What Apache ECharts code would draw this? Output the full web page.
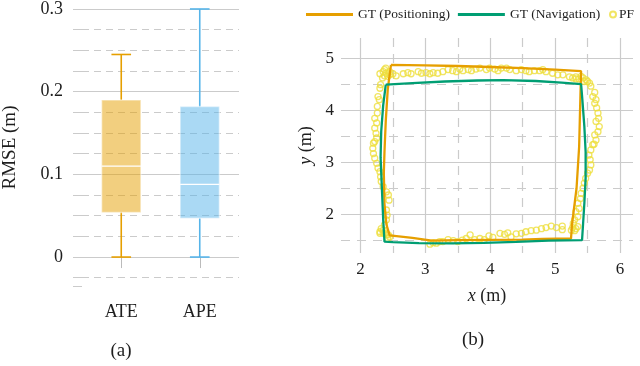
<!DOCTYPE html>
<html>
<head>
<meta charset="utf-8">
<script src="https://cdn.jsdelivr.net/npm/echarts@6.0.0/dist/echarts.min.js"></script>
<style>
  html, body { margin: 0; padding: 0; background: #fff; }
  #chart { width: 640px; height: 366px; }
</style>
</head>
<body>
<div id="chart"></div>
<script>
// (a) RMSE box statistics: [min, q1, median, q3, max]
const errorNames = ['ATE', 'APE'];
const ateBox = [0, 0.054, 0.110, 0.190, 0.245];
const apeBox = [0, 0.047, 0.088, 0.182, 0.300];

// (b) trajectories, [x, y] in m
const gtPositioning = [
  [2.47, 4.88], [3.0, 4.87], [3.5, 4.86], [4.0, 4.84], [4.5, 4.82], [5.0, 4.79], [5.40, 4.76],
  [5.39, 4.30], [5.38, 3.80], [5.37, 3.30], [5.35, 2.90], [5.33, 2.50], [5.29, 2.10], [5.26, 1.80], [5.245, 1.53],
  [4.8, 1.52], [4.5, 1.51], [4.0, 1.505], [3.5, 1.50], [3.1, 1.49], [2.8, 1.54], [2.45, 1.59],
  [2.40, 1.80], [2.37, 2.20], [2.36, 2.80], [2.37, 3.20], [2.39, 3.80], [2.42, 4.40], [2.44, 4.60], [2.47, 4.88]
];
const gtNavigation = [
  [2.39, 4.50], [2.8, 4.53], [3.3, 4.56], [3.8, 4.58], [4.2, 4.585], [4.7, 4.57], [5.1, 4.54], [5.40, 4.51],
  [5.42, 4.20], [5.45, 3.70], [5.47, 3.20], [5.47, 2.70], [5.45, 2.20], [5.43, 1.80], [5.415, 1.50],
  [4.9, 1.49], [4.4, 1.465], [3.9, 1.445], [3.4, 1.435], [2.9, 1.44], [2.5, 1.46], [2.37, 1.47],
  [2.35, 1.90], [2.33, 2.50], [2.31, 3.10], [2.32, 3.60], [2.35, 4.10], [2.39, 4.50]
];
const pfPoints = [
  [2.30, 4.71], [2.35, 4.75], [2.37, 4.79], [2.40, 4.72], [2.42, 4.66], [2.37, 4.67], [2.34, 4.63], [2.45, 4.75], [2.50, 4.71], [2.39, 4.82],
  [2.45, 4.69], [2.55, 4.67], [2.66, 4.71], [2.73, 4.73], [2.78, 4.71], [2.89, 4.75], [2.94, 4.72], [3.01, 4.73], [3.07, 4.71], [3.12, 4.73],
  [3.19, 4.72], [3.27, 4.75], [3.35, 4.79], [3.42, 4.77], [3.48, 4.75], [3.53, 4.80], [3.58, 4.77], [3.66, 4.79], [3.71, 4.77], [3.78, 4.80],
  [3.84, 4.82], [3.94, 4.79], [3.99, 4.82], [4.07, 4.80], [4.12, 4.77], [4.17, 4.82], [4.25, 4.82], [4.30, 4.79], [4.40, 4.77], [4.48, 4.79],
  [4.55, 4.77], [4.60, 4.75], [4.68, 4.77], [4.76, 4.77], [4.81, 4.79], [4.86, 4.75], [4.96, 4.72], [5.04, 4.69], [5.12, 4.69], [5.22, 4.65],
  [5.27, 4.63], [5.32, 4.61], [5.32, 4.65], [5.37, 4.61], [5.40, 4.66], [5.45, 4.56],
  [5.43, 4.63], [5.48, 4.59], [5.50, 4.56], [5.53, 4.53], [5.55, 4.47], [5.61, 4.35], [5.58, 4.27], [5.63, 4.21], [5.61, 4.14], [5.64, 4.05],
  [5.66, 3.95], [5.67, 3.85], [5.63, 3.79], [5.68, 3.69], [5.66, 3.59], [5.61, 3.53], [5.63, 3.43], [5.58, 3.34], [5.60, 3.35], [5.55, 3.24],
  [5.52, 3.14], [5.54, 3.05], [5.55, 2.95], [5.53, 2.85], [5.50, 2.79], [5.47, 2.69], [5.45, 2.60], [5.43, 2.50], [5.40, 2.40], [5.39, 2.30],
  [5.35, 2.21], [5.37, 2.11], [5.32, 2.05], [5.35, 1.95], [5.30, 1.89], [5.28, 1.82], [5.27, 1.74], [5.32, 1.72], [5.35, 1.76], [5.30, 1.68],
  [5.25, 1.69], [5.11, 1.77], [5.11, 1.70], [5.02, 1.74], [4.94, 1.77], [4.86, 1.74], [4.79, 1.72], [4.71, 1.69], [4.63, 1.68], [4.55, 1.66],
  [4.48, 1.63], [4.40, 1.62], [4.32, 1.56], [4.27, 1.64], [4.22, 1.61], [4.15, 1.63], [4.04, 1.55], [3.98, 1.58], [3.91, 1.51], [3.84, 1.53],
  [3.76, 1.51], [3.69, 1.60], [3.63, 1.53], [3.57, 1.50], [3.50, 1.47], [3.43, 1.49], [3.35, 1.51], [3.27, 1.47], [3.22, 1.47], [3.17, 1.44],
  [3.12, 1.45], [3.07, 1.42],
  [2.45, 1.56], [2.42, 1.53], [2.40, 1.60], [2.37, 1.63], [2.35, 1.69], [2.32, 1.72], [2.30, 1.66], [2.30, 1.63], [2.35, 1.63], [2.43, 1.60],
  [2.37, 1.79], [2.40, 1.89], [2.41, 1.98], [2.40, 2.08], [2.44, 2.27], [2.43, 2.37], [2.40, 2.43], [2.35, 2.53], [2.32, 2.63], [2.31, 2.72],
  [2.30, 2.82], [2.27, 2.89], [2.25, 2.98], [2.22, 3.08], [2.20, 3.17], [2.19, 3.27], [2.20, 3.37], [2.22, 3.40], [2.25, 3.47], [2.24, 3.56],
  [2.22, 3.66], [2.25, 3.76], [2.22, 3.85], [2.26, 3.95], [2.26, 4.08], [2.29, 4.21], [2.27, 4.27], [2.30, 4.43], [2.31, 4.50]
];

const serif = "'Liberation Serif', 'DejaVu Serif', serif";
const ink = '#1e1e1e';
const gridGray = '#cbcbcb';
const boxStroke = ['#e69f00', '#56b4e9'];
const boxFill = ['rgba(230,159,0,0.5)', 'rgba(86,180,233,0.5)'];

const chart = echarts.init(document.getElementById('chart'));

// whiskers, caps, box and white median line for each category
function renderBox(params, api) {
  const i = api.value(0);
  const lo = api.coord([i, api.value(1)]);
  const q1 = api.coord([i, api.value(2)]);
  const md = api.coord([i, api.value(3)]);
  const q3 = api.coord([i, api.value(4)]);
  const hi = api.coord([i, api.value(5)]);
  const band = api.size([1, 0])[0];
  const bw = band * 0.5;
  const cw = band * 0.25;
  const cx = lo[0];
  const ls = { stroke: boxStroke[i], lineWidth: 1.6 };
  return {
    type: 'group',
    children: [
      { type: 'line', shape: { x1: cx, y1: lo[1], x2: cx, y2: q1[1] }, style: ls },
      { type: 'line', shape: { x1: cx, y1: q3[1], x2: cx, y2: hi[1] }, style: ls },
      { type: 'line', shape: { x1: cx - cw / 2, y1: lo[1], x2: cx + cw / 2, y2: lo[1] }, style: ls },
      { type: 'line', shape: { x1: cx - cw / 2, y1: hi[1], x2: cx + cw / 2, y2: hi[1] }, style: ls },
      { type: 'rect', shape: { x: cx - bw / 2, y: q3[1], width: bw, height: q1[1] - q3[1] },
        style: { fill: boxFill[i], stroke: 'rgba(255,255,255,0.45)', lineWidth: 1.5 } },
      { type: 'line', shape: { x1: cx - bw / 2, y1: md[1], x2: cx + bw / 2, y2: md[1] },
        style: { stroke: '#fff', lineWidth: 1.3 } }
    ]
  };
}

const dashed = { color: gridGray, type: [7, 5], width: 1.2 };
const solid = { color: gridGray, width: 1.2 };

const option = {
  animation: false,
  backgroundColor: '#fff',
  textStyle: { fontFamily: serif },
  grid: [
    { left: 79, right: 401, top: 7, bottom: 80 },
    { left: 341, right: 7, top: 38, bottom: 113 }
  ],
  legend: [
    {
      data: [
        { name: 'GT (Positioning)', icon: 'rect' },
        { name: 'GT (Navigation)', icon: 'rect' }
      ],
      left: 306, top: 7.5, padding: 0, orient: 'horizontal',
      itemWidth: 47, itemHeight: 3, itemGap: 8,
      textStyle: { fontFamily: serif, fontSize: 13.5, color: ink }
    },
    {
      data: ['PF'],
      left: 609, top: 7.5, padding: 0,
      itemWidth: 6, itemHeight: 6, itemGap: 0,
      textStyle: { fontFamily: serif, fontSize: 13.5, color: ink, padding: [0, 0, 0, -2] }
    }
  ],
  xAxis: [
    {
      gridIndex: 0, type: 'category', data: errorNames,
      axisLine: { show: false },
      axisTick: { show: true, alignWithLabel: true, length: 11, lineStyle: { color: '#bbb' } },
      axisLabel: { margin: 17, fontSize: 18, color: ink, fontFamily: serif },
      splitLine: { show: false }
    },
    {
      gridIndex: 1, type: 'value', min: 1.7, max: 6.2, splitNumber: 4,
      name: '{i|x} (m)', nameLocation: 'middle', nameGap: 34,
      nameTextStyle: { fontFamily: serif, fontSize: 18, color: ink,
        rich: { i: { fontStyle: 'italic', fontFamily: serif, fontSize: 18, color: ink } } },
      axisLine: { show: false },
      axisTick: { show: false },
      axisLabel: { margin: 8, fontSize: 17, color: ink, fontFamily: serif, showMinLabel: false, showMaxLabel: false },
      splitLine: { show: true, showMinLine: false, showMaxLine: false, lineStyle: solid },
      minorTick: { show: false, splitNumber: 2 },
      minorSplitLine: { show: true, lineStyle: { color: gridGray, type: [9, 7], width: 1.2 } }
    }
  ],
  yAxis: [
    {
      gridIndex: 0, type: 'value', min: -0.035, max: 0.3, splitNumber: 4,
      name: 'RMSE (m)', nameLocation: 'middle', nameGap: 62,
      nameTextStyle: { fontFamily: serif, fontSize: 19, color: ink },
      axisLine: { show: false },
      axisTick: { show: true, length: 9, lineStyle: { color: gridGray } },
      minorTick: { show: true, splitNumber: 4, length: 9, lineStyle: { color: gridGray } },
      axisLabel: { margin: 19, fontSize: 18, color: ink, fontFamily: serif, showMinLabel: false },
      splitLine: { show: true, showMinLine: false, lineStyle: solid },
      minorSplitLine: { show: true, lineStyle: dashed }
    },
    {
      gridIndex: 1, type: 'value', min: 1.25, max: 5.4, splitNumber: 4,
      name: '{i|y} (m)', nameLocation: 'middle', nameGap: 26,
      nameTextStyle: { fontFamily: serif, fontSize: 18, color: ink,
        rich: { i: { fontStyle: 'italic', fontFamily: serif, fontSize: 18, color: ink } } },
      axisLine: { show: false },
      axisTick: { show: false },
      axisLabel: { margin: 7, fontSize: 17, color: ink, fontFamily: serif, showMinLabel: false, showMaxLabel: false },
      splitLine: { show: true, showMinLine: false, showMaxLine: false, lineStyle: solid },
      minorTick: { show: false, splitNumber: 2 },
      minorSplitLine: { show: true, lineStyle: { color: gridGray, type: [9, 7], width: 1.2 } }
    }
  ],
  series: [
    {
      type: 'custom', name: 'RMSE',
      xAxisIndex: 0, yAxisIndex: 0,
      renderItem: renderBox,
      encode: { x: 0, y: [1, 2, 3, 4, 5] },
      data: [[0].concat(ateBox), [1].concat(apeBox)]
    },
    {
      type: 'line', name: 'GT (Positioning)',
      xAxisIndex: 1, yAxisIndex: 1,
      data: gtPositioning, symbol: 'none', showSymbol: false,
      lineStyle: { color: '#e69f00', width: 2.3 }, itemStyle: { color: '#e69f00' }
    },
    {
      type: 'line', name: 'GT (Navigation)',
      xAxisIndex: 1, yAxisIndex: 1,
      data: gtNavigation, symbol: 'none', showSymbol: false,
      lineStyle: { color: '#009e73', width: 2.3 }, itemStyle: { color: '#009e73' }
    },
    {
      type: 'scatter', name: 'PF',
      xAxisIndex: 1, yAxisIndex: 1,
      data: pfPoints, symbol: 'circle', symbolSize: 6,
      itemStyle: { color: 'rgba(255,255,255,0)', borderColor: '#eedf3c', borderWidth: 1.3 }
    }
  ],
  graphic: [
    { type: 'text', x: 121, y: 351,
      style: { text: '(a)', font: "19px 'Liberation Serif', serif", fill: ink, textAlign: 'center', textVerticalAlign: 'middle' } },
    { type: 'text', x: 473, y: 340,
      style: { text: '(b)', font: "19px 'Liberation Serif', serif", fill: ink, textAlign: 'center', textVerticalAlign: 'middle' } }
  ]
};

chart.setOption(option);
</script>
</body>
</html>
